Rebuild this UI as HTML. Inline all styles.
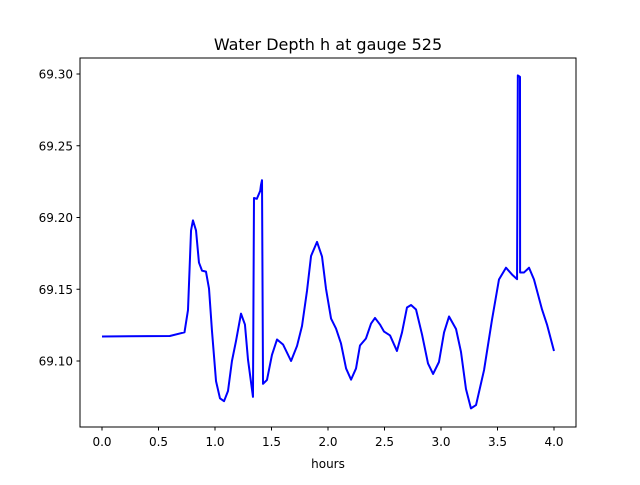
<!DOCTYPE html>
<html><head><meta charset="utf-8"><style>
body{margin:0;background:#fff;}
svg text{font-family:"DejaVu Sans","Liberation Sans",sans-serif;fill:#000;}
</style></head><body>
<svg width="640" height="480">
<rect width="640" height="480" fill="#fff"/>
<text x="328" y="50" font-size="16" text-anchor="middle">Water Depth h at gauge 525</text>
<g id="xticks"></g>
<g id="yticks"></g>
<polyline id="line" fill="none" stroke="#0000ff" stroke-width="2" stroke-linejoin="round"/>
<rect x="80" y="58" width="496" height="369" fill="none" stroke="#000" stroke-width="1"/>
<text x="328" y="468" font-size="12" text-anchor="middle">hours</text>
</svg>
<script>
const hours=[0,0.6,0.73,0.761,0.788,0.805,0.832,0.858,0.885,0.92,0.947,0.973,1.009,1.044,1.08,1.115,1.15,1.186,1.23,1.265,1.292,1.336,1.345,1.37,1.40,1.407,1.416,1.425,1.46,1.504,1.549,1.602,1.673,1.726,1.77,1.814,1.85,1.903,1.947,1.982,2.027,2.071,2.115,2.16,2.204,2.248,2.283,2.336,2.381,2.416,2.46,2.496,2.549,2.61,2.655,2.699,2.735,2.779,2.832,2.885,2.93,2.982,3.027,3.071,3.133,3.177,3.221,3.265,3.31,3.381,3.451,3.513,3.575,3.628,3.673,3.68,3.699,3.70,3.735,3.779,3.823,3.894,3.938,4.0];
const depth=[69.1171,69.1174,69.120,69.1355,69.191,69.198,69.191,69.1686,69.163,69.1623,69.1505,69.1212,69.086,69.074,69.072,69.0791,69.1,69.114,69.133,69.1254,69.1010,69.075,69.2136,69.213,69.2185,69.2227,69.226,69.0841,69.0868,69.1042,69.115,69.1115,69.100,69.1105,69.1244,69.1488,69.1732,69.183,69.1728,69.1505,69.1296,69.1226,69.1122,69.0948,69.087,69.0948,69.1108,69.1157,69.1261,69.130,69.1254,69.1205,69.1178,69.107,69.1199,69.1373,69.139,69.1359,69.1185,69.0983,69.091,69.0993,69.1199,69.131,69.1223,69.1063,69.0805,69.067,69.0693,69.0937,69.1286,69.1568,69.165,69.1603,69.157,69.299,69.298,69.1617,69.1617,69.165,69.1568,69.1359,69.1254,69.107];
const xTicks=[0,0.5,1,1.5,2,2.5,3,3.5,4];
const xTickLabels=["0.0","0.5","1.0","1.5","2.0","2.5","3.0","3.5","4.0"];
const yTicks=[69.10,69.15,69.20,69.25,69.30];
const yTickLabels=["69.10","69.15","69.20","69.25","69.30"];
const X=v=>102+v*113;
const Y=v=>74+(69.30-v)*1435;
const NS="http://www.w3.org/2000/svg";
const xg=document.getElementById('xticks'),yg=document.getElementById('yticks');
xTicks.forEach((t,i)=>{
 const l=document.createElementNS(NS,'line');
 
 
 l.setAttribute('x1',X(t));l.setAttribute('x2',X(t));l.setAttribute('y1',427);l.setAttribute('y2',430.5);l.setAttribute('stroke','#000');
 xg.appendChild(l);
 const s=document.createElementNS(NS,'text');
 
 
 s.setAttribute('x',X(t));s.setAttribute('y',446);s.setAttribute('font-size','12');s.setAttribute('text-anchor','middle');
 s.textContent=xTickLabels[i];xg.appendChild(s);
});
yTicks.forEach((t,i)=>{
 const l=document.createElementNS(NS,'line');
 
 
 l.setAttribute('x1',76.5);l.setAttribute('x2',80);l.setAttribute('y1',Y(t));l.setAttribute('y2',Y(t));l.setAttribute('stroke','#000');
 yg.appendChild(l);
 const s=document.createElementNS(NS,'text');
 
 
 s.setAttribute('x',73);s.setAttribute('y',Y(t)+4.5);s.setAttribute('font-size','12');s.setAttribute('text-anchor','end');
 s.textContent=yTickLabels[i];yg.appendChild(s);
});
document.getElementById('line').setAttribute('points',hours.map((h,i)=>X(h)+','+Y(depth[i])).join(' '));
</script>
</body></html>
